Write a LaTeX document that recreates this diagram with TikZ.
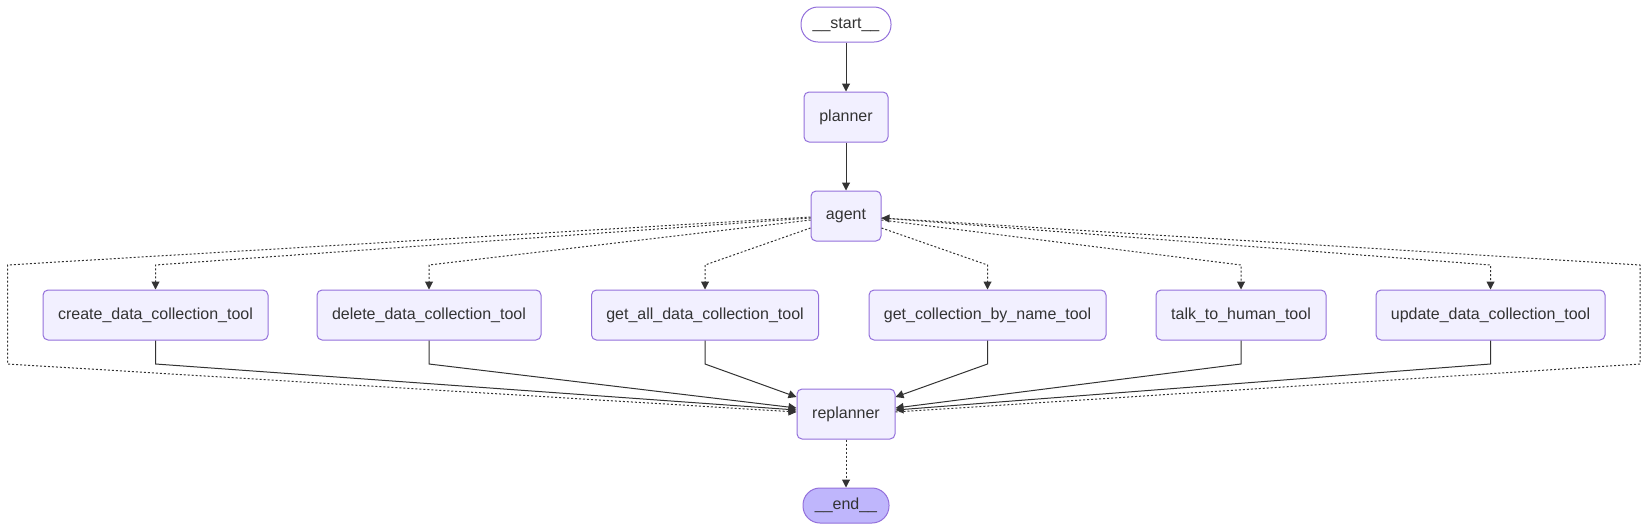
\documentclass[tikz,border=0pt]{standalone}
\usepackage{fontspec}
\setmainfont{Liberation Sans}
\usetikzlibrary{arrows.meta}
\definecolor{nodefill}{HTML}{F2F0FF}
\definecolor{nodestroke}{HTML}{9370DB}
\definecolor{endfill}{HTML}{BFB6FC}
\definecolor{edgec}{HTML}{333333}
\definecolor{textc}{HTML}{333333}
\begin{document}
\begin{tikzpicture}[x=1pt,y=-1pt,
  box/.style={draw=nodestroke, fill=nodefill, line width=1pt, rounded corners=5pt,
    minimum height=50pt, inner sep=0pt, text=textc, font=\fontsize{16pt}{19pt}\selectfont},
  term/.style={box, rounded corners=17pt, minimum height=35pt},
  solidedge/.style={draw=edgec, line width=1pt, -{Triangle[length=8pt,width=8pt]}},
  dotedge/.style={solidedge, dash pattern=on 2pt off 2pt},
]
\useasboundingbox (0,0) rectangle (1648,531);
% bend levels
\coordinate (tb) at (0,265);
\coordinate (bb) at (0,364);
\coordinate (L1) at (7.5,265);
\coordinate (L2) at (7.5,364);
\coordinate (R1) at (1640,265);
\coordinate (R2) at (1640,364);
% nodes
\node[term, fill=white, minimum width=90pt] (start) at (846,24.5) {\_\_start\_\_};
\node[box, minimum width=84pt] (planner) at (846,117) {planner};
\node[box, minimum width=70pt] (agent) at (846,216) {agent};
\node[box, minimum width=225pt] (create) at (155.5,315) {create\_data\_collection\_tool};
\node[box, minimum width=224pt] (delete) at (429,315) {delete\_data\_collection\_tool};
\node[box, minimum width=227pt] (getall) at (705,315) {get\_all\_data\_collection\_tool};
\node[box, minimum width=237pt] (getcoll) at (987.5,315) {get\_collection\_by\_name\_tool};
\node[box, minimum width=170pt] (talk) at (1241,315) {talk\_to\_human\_tool};
\node[box, minimum width=229pt] (update) at (1490.5,315) {update\_data\_collection\_tool};
\node[box, minimum width=98pt] (replanner) at (846,414) {replanner};
\node[term, fill=endfill, minimum width=86pt] (end) at (846,505.5) {\_\_end\_\_};
% solid edges
\draw[solidedge] (start) -- (planner);
\draw[solidedge] (planner) -- (agent);
% agent -> tools
\draw[dotedge] ([yshift=-2pt]agent.west) -- (create.north |- tb) -- (create.north);
\draw[dotedge] ([yshift=-4pt]agent.west) -- (delete.north |- tb) -- (delete.north);
\draw[dotedge] ([yshift=-12pt]agent.west) -- (getall.north |- tb) -- (getall.north);
\draw[dotedge] ([yshift=-12pt]agent.east) -- (getcoll.north |- tb) -- (getcoll.north);
\draw[dotedge] ([yshift=-4pt]agent.east) -- (talk.north |- tb) -- (talk.north);
\draw[dotedge] ([yshift=-2pt]agent.east) -- (update.north |- tb) -- (update.north);
% tools -> replanner
\draw[solidedge] (create.south) -- (create.south |- bb) -- ([yshift=4pt]replanner.west);
\draw[solidedge] (delete.south) -- (delete.south |- bb) -- ([yshift=6pt]replanner.west);
\draw[solidedge] (getall.south) -- (getall.south |- bb) -- ([yshift=17pt]replanner.west);
\draw[solidedge] (getcoll.south) -- (getcoll.south |- bb) -- ([yshift=17pt]replanner.east);
\draw[solidedge] (talk.south) -- (talk.south |- bb) -- ([yshift=6pt]replanner.east);
\draw[solidedge] (update.south) -- (update.south |- bb) -- ([yshift=4pt]replanner.east);
% loops
\draw[dotedge] ([yshift=-1pt]agent.west) -- (L1) -- (L2) -- ([yshift=2pt]replanner.west);
\draw[dotedge] ([yshift=2pt]replanner.east) -- (R2) -- (R1) -- ([yshift=-2pt]agent.east);
% replanner -> end
\draw[dotedge] (replanner) -- (end);
\end{tikzpicture}
\end{document}
